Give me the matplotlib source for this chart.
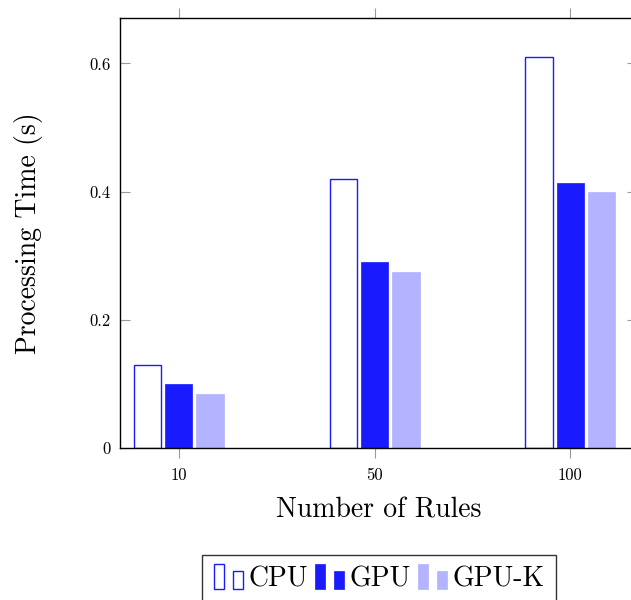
import matplotlib
matplotlib.use("Agg")
import matplotlib.pyplot as plt
from matplotlib.legend_handler import HandlerBase
from matplotlib.patches import Rectangle

plt.rcParams.update({
    "font.family": "serif", "font.serif": ["cmr10", "DejaVu Serif"],
    "axes.formatter.use_mathtext": True, "mathtext.fontset": "cm",
    "axes.linewidth": 1.0,
})

# processing time per rule count
categories = ["10", "50", "100"]
series = ["CPU", "GPU", "GPU-K"]
cpu = [0.13, 0.42, 0.61]
gpu = [0.10, 0.29, 0.413]
gpu_k = [0.085, 0.275, 0.399]
yticks = [0, 0.2, 0.4, 0.6]
ytick_labels = ["0", "0.2", "0.4", "0.6"]

BLUE = "#1a1aff"
LIGHT = "#b3b3ff"
styles = [
    dict(facecolor="white", edgecolor=BLUE, linewidth=1.0),
    dict(facecolor=BLUE, edgecolor=BLUE, linewidth=0.5),
    dict(facecolor=LIGHT, edgecolor=LIGHT, linewidth=0.5),
]


class TwoBarHandler(HandlerBase):
    """pgfplots-style ybar legend image: a tall bar and a short bar."""
    def create_artists(self, legend, orig, xd, yd, w, h, fontsize, trans):
        fc, ec, lw = orig.get_facecolor(), orig.get_edgecolor(), orig.get_linewidth()
        bw = w * 0.3
        r1 = Rectangle((xd, yd - h * 0.15), bw, h * 1.3, facecolor=fc,
                       edgecolor=ec, linewidth=lw, transform=trans)
        r2 = Rectangle((xd + w * 0.58, yd - h * 0.15), bw, h * 0.95,
                       facecolor=fc, edgecolor=ec, linewidth=lw, transform=trans)
        return [r1, r2]


fig = plt.figure(figsize=(6.31, 6.0), dpi=100)
# the plot area runs a little past the right edge of the canvas
ax = fig.add_axes([120 / 631, 1 - 448 / 600, 517 / 631, 430 / 600])
ax.patch.set_visible(False)

x = list(range(len(categories)))
width = 0.14
offsets = [-0.16, 0.0, 0.16]
handles = []
for vals, off, st, name in zip([cpu, gpu, gpu_k], offsets, styles, series):
    bars = ax.bar([i + off for i in x], vals, width=width, label=name, **st)
    handles.append(bars.patches[0])

ax.set_xlim(-0.30, 2.34)
ax.set_ylim(0, 0.671)
ax.spines["right"].set_visible(False)
ax.set_xticks(x)
ax.set_xticklabels(categories)
ax.set_yticks(yticks)
ax.set_yticklabels(ytick_labels)
ax.tick_params(axis="x", direction="out", top=True, length=7.5, width=0.8,
               color="#999999", labelsize=12, pad=7)
ax.tick_params(axis="y", direction="in", right=True, length=7.5, width=0.8,
               color="#999999", labelsize=12, pad=7)

ax.set_xlabel("Number of Rules", fontsize=20, labelpad=10)
ax.set_ylabel("Processing Time (s)", fontsize=20, labelpad=33)

leg = fig.legend(handles, series, loc="upper center",
                 bbox_to_anchor=(379 / 631, 1 - 555 / 600), ncol=3,
                 fontsize=20, frameon=True, fancybox=False, edgecolor="black",
                 handler_map={Rectangle: TwoBarHandler()},
                 handlelength=1.2, handletextpad=0.05, columnspacing=0.25,
                 borderpad=0.4, borderaxespad=0)
leg.get_frame().set_linewidth(1.0)

fig.savefig("out.png", dpi=100)
